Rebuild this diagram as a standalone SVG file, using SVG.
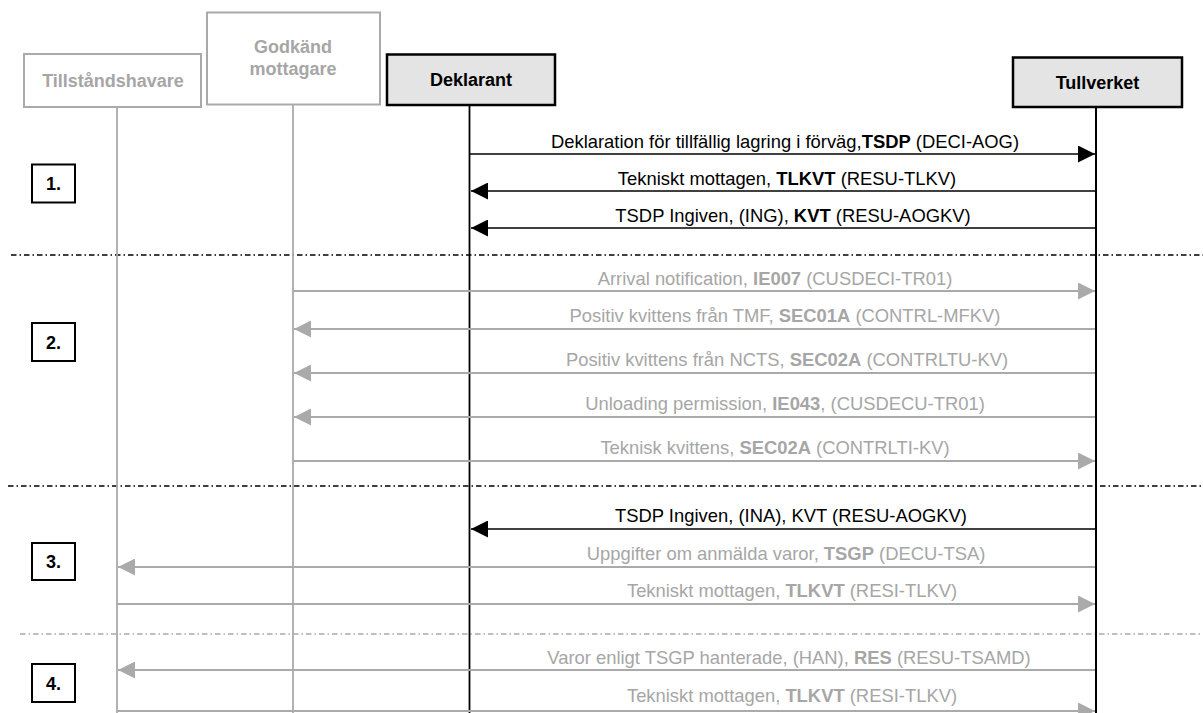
<svg xmlns="http://www.w3.org/2000/svg" width="1203" height="713" viewBox="0 0 1203 713">
<style>
text{font-family:"Liberation Sans",Arial,sans-serif;font-size:18px}
.hd{font-weight:bold;text-anchor:middle}
.b{font-weight:bold}
.lbl{text-anchor:middle;font-size:18.4px}
.gt{fill:#a6a6a6}
.kt{fill:#000}
.gbox{fill:#fff;stroke:#aaaaaa;stroke-width:2}
.kbox{fill:#e4e4e4;stroke:#000;stroke-width:2.5}
.nbox{fill:#fff;stroke:#000;stroke-width:2}
.lifeg{stroke:#aaaaaa;stroke-width:1.8;fill:none}
.lifek{stroke:#000;stroke-width:1.8;fill:none}
.ak{stroke:#000;stroke-width:1.6;fill:none;marker-end:url(#hk)}
.ag{stroke:#aaaaaa;stroke-width:1.8;fill:none;marker-end:url(#hg)}
.sepk{stroke:#000;stroke-width:1.6;stroke-dasharray:5.5 3 1.5 3;fill:none}
.sepg{stroke:#aaaaaa;stroke-width:1.6;stroke-dasharray:5.5 3 1.5 3;fill:none}
</style>
<defs>
<marker id="hk" viewBox="0 0 17 17" refX="17" refY="8.5" markerWidth="17" markerHeight="17" markerUnits="userSpaceOnUse" orient="auto"><path d="M0,0 L17,8.5 L0,17 z" fill="#000"/></marker>
<marker id="hg" viewBox="0 0 17 17" refX="17" refY="8.5" markerWidth="17" markerHeight="17" markerUnits="userSpaceOnUse" orient="auto"><path d="M0,0 L17,8.5 L0,17 z" fill="#aaaaaa"/></marker>
</defs>
<rect width="1203" height="713" fill="#fff"/>

<g id="separators">
<path class="sepk" d="M11,255 H1203"/>
<path class="sepk" d="M8,486 H1203"/>
<path class="sepg" d="M20,634 H1203"/>
</g>

<g id="tillstandshavare">
<path class="lifeg" d="M117,107 V713"/>
<rect class="gbox" x="24" y="54" width="177" height="53"/>
<text class="hd gt" x="113" y="87">Tillståndshavare</text>
</g>
<g id="godkand-mottagare">
<path class="lifeg" d="M293,104 V713"/>
<rect class="gbox" x="207" y="12.5" width="173" height="92"/>
<text class="hd gt" x="293" y="53">Godkänd</text>
<text class="hd gt" x="293" y="75">mottagare</text>
</g>
<g id="deklarant">
<path class="lifek" d="M469.5,105 V713"/>
<rect class="kbox" x="387" y="54.5" width="168" height="50.5"/>
<text class="hd kt" x="471" y="86">Deklarant</text>
</g>
<g id="tullverket">
<path class="lifek" d="M1096,107 V713" style="stroke-width:2"/>
<rect class="kbox" x="1013" y="57.5" width="169" height="49.5"/>
<text class="hd kt" x="1097.5" y="89">Tullverket</text>
</g>

<g id="step-1"><rect class="nbox" x="32" y="164.5" width="43" height="38"/><text class="hd kt" x="53.5" y="190">1.</text></g>
<g id="step-2"><rect class="nbox" x="32" y="323" width="43" height="38"/><text class="hd kt" x="53.5" y="348.5">2.</text></g>
<g id="step-3"><rect class="nbox" x="32" y="543" width="43" height="37"/><text class="hd kt" x="53.5" y="568">3.</text></g>
<g id="step-4"><rect class="nbox" x="32" y="664" width="43" height="38"/><text class="hd kt" x="53.5" y="689.5">4.</text></g>

<g id="connectors">
<path class="ak" d="M470,154 H1095"/>
<text class="lbl kt" x="785" y="148">Deklaration för tillfällig lagring i förväg,<tspan class="b">TSDP</tspan> (DECI-AOG)</text>
<path class="ak" d="M1095,191 H471"/>
<text class="lbl kt" x="787" y="185">Tekniskt mottagen, <tspan class="b">TLKVT</tspan> (RESU-TLKV)</text>
<path class="ak" d="M1095,228 H471"/>
<text class="lbl kt" x="793" y="222">TSDP Ingiven, (ING), <tspan class="b">KVT</tspan> (RESU-AOGKV)</text>

<path class="ag" d="M293,291 H1095"/>
<text class="lbl gt" x="775" y="285">Arrival notification, <tspan class="b">IE007</tspan> (CUSDECI-TR01)</text>
<path class="ag" d="M1095,329 H294"/>
<text class="lbl gt" x="785" y="322">Positiv kvittens från TMF, <tspan class="b">SEC01A</tspan> (CONTRL-MFKV)</text>
<path class="ag" d="M1095,373 H294"/>
<text class="lbl gt" x="787" y="366">Positiv kvittens från NCTS, <tspan class="b">SEC02A</tspan> (CONTRLTU-KV)</text>
<path class="ag" d="M1095,417 H294"/>
<text class="lbl gt" x="785" y="410">Unloading permission, <tspan class="b">IE043</tspan>, (CUSDECU-TR01)</text>
<path class="ag" d="M293,461 H1095"/>
<text class="lbl gt" x="775" y="454">Teknisk kvittens, <tspan class="b">SEC02A</tspan> (CONTRLTI-KV)</text>

<path class="ak" d="M1095,529 H471"/>
<text class="lbl kt" x="791" y="522">TSDP Ingiven, (INA), KVT (RESU-AOGKV)</text>
<path class="ag" d="M1095,567 H118"/>
<text class="lbl gt" x="786" y="560">Uppgifter om anmälda varor, <tspan class="b">TSGP</tspan> (DECU-TSA)</text>
<path class="ag" d="M117,604 H1095"/>
<text class="lbl gt" x="792" y="597">Tekniskt mottagen, <tspan class="b">TLKVT</tspan> (RESI-TLKV)</text>

<path class="ag" d="M1095,670 H118"/>
<text class="lbl gt" x="789" y="664">Varor enligt TSGP hanterade, (HAN), <tspan class="b">RES</tspan> (RESU-TSAMD)</text>
<path class="ag" d="M117,711 H1095"/>
<text class="lbl gt" x="792" y="702">Tekniskt mottagen, <tspan class="b">TLKVT</tspan> (RESI-TLKV)</text>
</g>
</svg>
